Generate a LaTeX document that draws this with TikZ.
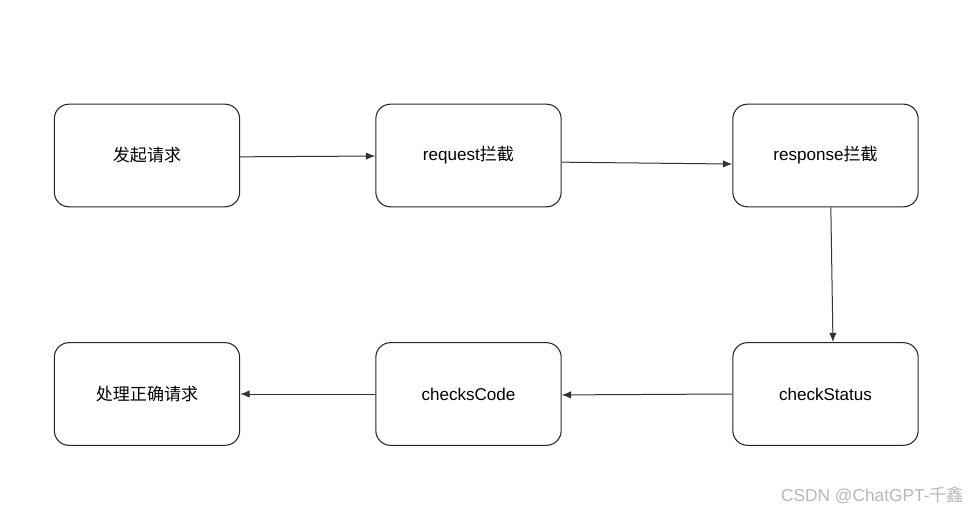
\documentclass[tikz,border=0pt]{standalone}
\usepackage{fontspec}
\setmainfont{Liberation Sans}
\newfontfamily\cjk{Noto Sans CJK SC}
\usetikzlibrary{arrows.meta}

\tikzset{
    stepbox/.style={draw=black!85, line width=0.8pt, rounded corners=11pt,
        minimum width=139pt, minimum height=77pt, font=\fontsize{12.8}{15}\selectfont},
    flow/.style={draw=black!80, line width=0.75pt, -{Latex[length=7pt,width=5.5pt]}}
}

\begin{document}
\begin{tikzpicture}[x=0.75pt, y=-0.75pt]
    \useasboundingbox (0,0) rectangle (971,513);
    \node[stepbox] (send) at (147,155.5) {\cjk 发起请求};
    \node[stepbox] (req) at (468.5,155.5) {request{\cjk 拦截}};
    \node[stepbox] (resp) at (825.5,155.5) {response{\cjk 拦截}};
    \node[stepbox] (status) at (825.5,394) {checkStatus};
    \node[stepbox] (code) at (468.5,394) {checksCode};
    \node[stepbox] (done) at (147,394) {\cjk 处理正确请求};
    \draw[flow] ([yshift=-1pt]send.east) -- ([yshift=-0.4pt]req.west);
    \draw[flow] ([yshift=-5pt]req.east) -- ([yshift=-6.4pt]resp.west);
    \draw[flow] ([xshift=4pt]resp.south) -- ([xshift=5.6pt]status.north);
    \draw[flow] (status.west) -- ([yshift=-0.7pt]code.east);
    \draw[flow] (code.west) -- (done.east);
    \node[text=black!28, anchor=east, font=\fontsize{13}{15}\selectfont] (mark) at (969,495) {CSDN @ChatGPT-{\cjk 千鑫}};
\end{tikzpicture}
\end{document}
